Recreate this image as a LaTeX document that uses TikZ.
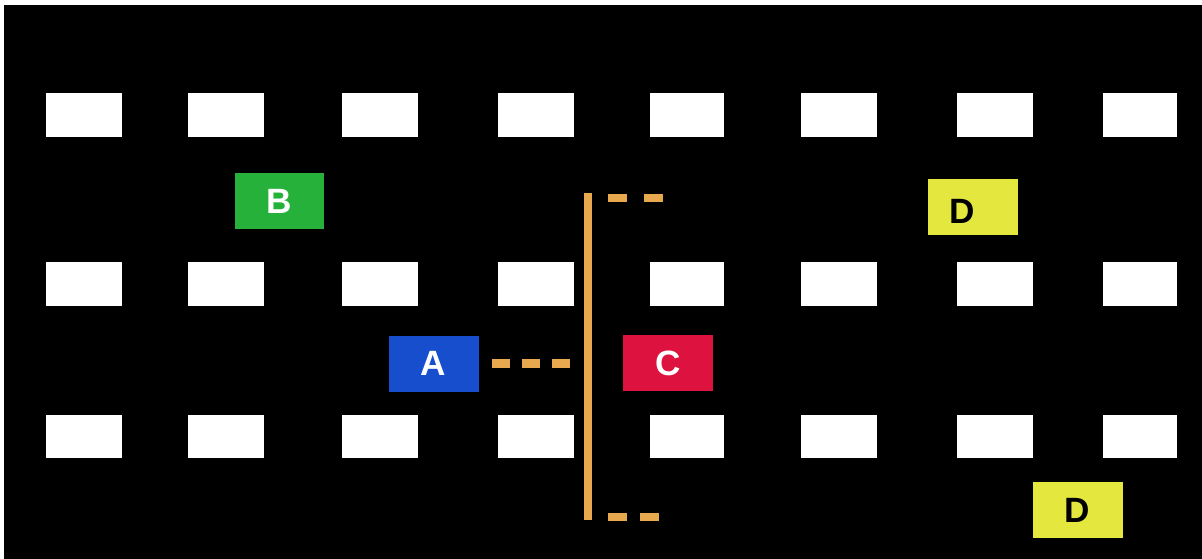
\documentclass[tikz,border=0pt]{standalone}
\usepackage{fontspec}
\setmainfont{Liberation Sans}
\usepackage{xcolor}
\definecolor{carB}{RGB}{38,178,58}
\definecolor{carA}{RGB}{22,78,205}
\definecolor{carC}{RGB}{222,18,62}
\definecolor{carD}{RGB}{228,232,62}
\definecolor{kerbline}{RGB}{232,168,78}
\begin{document}
\begin{tikzpicture}[x=0.02cm,y=-0.02cm,
  bay/.style={fill=white},
  car/.style={minimum width=1.8cm,minimum height=1.12cm,inner sep=0pt,font=\fontsize{20}{24}\selectfont\bfseries},
  kerb/.style={draw=kerbline,line width=4pt}]
\useasboundingbox (0,0) rectangle (1202,558);
\fill[white] (0,0) rectangle (1202,558);
\fill[black] (4,5) rectangle (1212,568);
\fill[bay] (46,93) rectangle (122,137);
\fill[bay] (188,93) rectangle (264,137);
\fill[bay] (342,93) rectangle (418,137);
\fill[bay] (498,93) rectangle (574,137);
\fill[bay] (650,93) rectangle (724,137);
\fill[bay] (801,93) rectangle (877,137);
\fill[bay] (957,93) rectangle (1033,137);
\fill[bay] (1103,93) rectangle (1177,137);
\fill[bay] (46,262) rectangle (122,306);
\fill[bay] (188,262) rectangle (264,306);
\fill[bay] (342,262) rectangle (418,306);
\fill[bay] (498,262) rectangle (574,306);
\fill[bay] (650,262) rectangle (724,306);
\fill[bay] (801,262) rectangle (877,306);
\fill[bay] (957,262) rectangle (1033,306);
\fill[bay] (1103,262) rectangle (1177,306);
\fill[bay] (46,415) rectangle (122,458);
\fill[bay] (188,415) rectangle (264,458);
\fill[bay] (342,415) rectangle (418,458);
\fill[bay] (498,415) rectangle (574,458);
\fill[bay] (650,415) rectangle (724,458);
\fill[bay] (801,415) rectangle (877,458);
\fill[bay] (957,415) rectangle (1033,458);
\fill[bay] (1103,415) rectangle (1177,458);
\node[car,fill=carB,text=white] (carb) at (279.5,201) {B};
\node[car,fill=carA,text=white] (cara) at (433.5,363.5) {A};
\node[car,fill=carC,text=white] (carc) at (668,363) {C};
\node[car,fill=carD] (cardtop) at (973,207) {};
\node[car] (dtoplabel) at (962,211) {D};
\node[car,fill=carD] (cardbot) at (1077.5,510) {D};
\coordinate (walltop) at (588,193);
\coordinate (wallbot) at (588,520);
\draw[kerb] (walltop) -- (wallbot);
\draw[kerb,line width=5.5pt,dash pattern=on 10.2pt off 6.8pt] ([xshift=0.26cm]cara.east) -- ([xshift=-0.34cm]wallbot |- cara.east);
\draw[kerb,line width=5pt,dash pattern=on 10.8pt off 9.6pt] ([xshift=0.4cm,yshift=-0.1cm]walltop) -- ++(55,0);
\draw[kerb,line width=5pt,dash pattern=on 10.8pt off 7.6pt] ([xshift=0.4cm,yshift=0.06cm]wallbot) -- ++(51,0);
\end{tikzpicture}
\end{document}
